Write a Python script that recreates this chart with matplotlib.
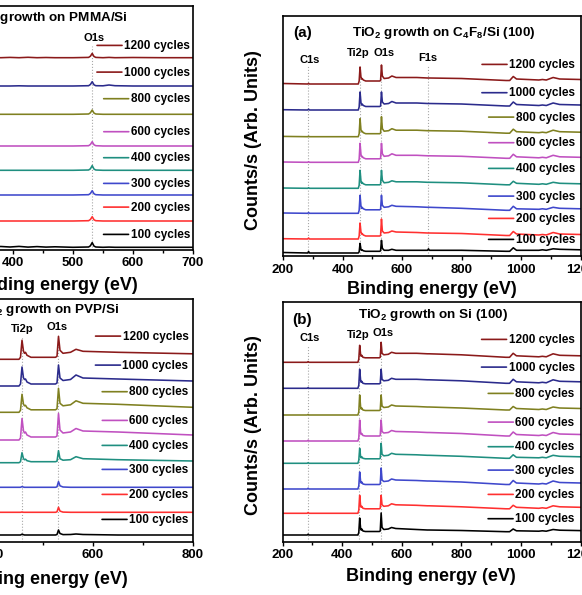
import matplotlib
matplotlib.use('Agg')
import matplotlib.pyplot as plt
from matplotlib.ticker import MultipleLocator

plt.rcParams['font.family'] = ['Liberation Sans', 'DejaVu Sans']
plt.rcParams['font.weight'] = 'bold'
plt.rcParams['axes.labelweight'] = 'bold'
plt.rcParams['mathtext.fontset'] = 'custom'
plt.rcParams['mathtext.rm'] = 'Liberation Sans:bold'
plt.rcParams['mathtext.it'] = 'Liberation Sans:bold'
plt.rcParams['mathtext.bf'] = 'Liberation Sans:bold'
plt.rcParams['mathtext.default'] = 'rm'

W, H = 582, 595

cycles = ['1200', '1000', '800', '600', '400', '300', '200', '100']
colors = ['#8b1a1a', '#2b2b8c', '#7f8020', '#c050c0', '#1f8f80', '#3f48cc', '#ff3030', '#000000']

# (a) TiO2 on C4F8/Si(100)
energy_a = [200, 283, 286, 289, 453, 456, 459, 462, 464, 466, 470, 478, 525, 528, 531, 534, 540, 555,
            566, 580, 650, 686, 689, 692, 800, 950, 962, 974, 985, 1060, 1072, 1085, 1108, 1130, 1200]
counts_a = [
    [0.5, 0, 0.6, 0, 0, 3, 17, 7, 5, 5.5, 4, 3, 3, 3.5, 19, 8, 5.5, 6, 8, 6.5, 6.5, 6, 6, 6, 5.5, 3.5, 3.5, 7.5, 5, 4, 4.5, 4, 6.5, 5, 4.5],
    [0.3, 0, 0.8, 0, 0, 3, 18, 7.5, 5, 6, 4.5, 3.5, 3.5, 4, 18, 8, 6, 6.5, 8.5, 7, 7, 6.5, 6.5, 6.5, 6, 4, 4, 8, 5.5, 4.5, 5, 4.5, 7, 5.5, 5],
    [0.3, 0, 0.5, 0, 0, 3, 18, 7, 5, 5.5, 4, 3, 3, 3.5, 20, 8, 5.5, 6, 8, 6.5, 6.5, 6, 6, 6, 5.5, 3.5, 3.5, 7.5, 5, 4, 4.5, 4, 6.5, 5, 4.5],
    [0.3, 0, 0.6, 0, 0, 3, 19, 8, 5.5, 6, 4.5, 3.5, 3.5, 4, 19, 8.5, 6, 6.5, 8.5, 7, 7, 6.5, 6.5, 6.5, 6, 4, 4, 8, 5.5, 4.5, 5, 4.5, 7, 5.5, 5],
    [0.3, 0, 0.6, 0, 0, 3, 18, 7.5, 5, 6, 4.5, 3.5, 3.5, 4, 18, 8, 5.5, 6, 7.5, 6.5, 6.5, 6, 6, 6, 5.5, 3.5, 3.5, 7, 5, 4, 4.5, 4, 6, 5, 4.5],
    [0.3, 0, 0.8, 0, 0, 3, 18, 7.5, 5, 6, 4.5, 3.5, 3.5, 4, 18, 8, 6, 6.5, 8, 7, 6.5, 6, 6, 6, 5, 3, 3, 7, 4.5, 4, 4.5, 4, 6, 5, 4.5],
    [0.3, 0, 1, 0, 0, 3, 16, 7, 5, 5.5, 4, 3, 3, 3.5, 20, 8, 6, 6.5, 8, 7, 6.5, 6, 6, 6, 5.5, 3.5, 3.5, 7.5, 5, 4, 4.5, 4, 6.5, 5, 4.5],
    [0.8, 0.3, 1.8, 0.3, 0.3, 1.5, 10, 4, 3, 3.5, 2.5, 2, 2, 2.5, 13, 5, 3, 3, 4, 3, 3, 3, 4.5, 3, 3, 2, 2, 5.5, 3, 3, 3.5, 3, 4.5, 4, 3.5],
]
offset_a = [172, 146, 119.3, 93.7, 67.7, 42.7, 17, 2.7]
peaks_a = ['C1s', 'Ti2p', 'O1s', 'F1s']
peak_energy_a = [285, 458, 531, 689]

# (b) TiO2 on Si(100)
energy_b = energy_a
counts_b = [
    [0, 0, 0.7, 0, 0, 3, 17, 8, 6, 7, 5, 4.5, 4.5, 5, 20, 9, 7.5, 8, 10, 9, 9, 8.5, 8.5, 8.5, 7.5, 5, 5, 9, 6.5, 5.5, 6, 5.5, 8.5, 7, 6.5],
    [0, 0, 0.7, 0, 0, 3, 19, 8.5, 6, 7, 5, 4.5, 4.5, 5, 19, 9, 7.5, 8, 10, 9, 9, 8.5, 8.5, 8.5, 7.5, 5, 5, 9, 6.5, 5.5, 6, 5.5, 8.5, 7, 6.5],
    [0, 0, 0.6, 0, 0, 3, 20, 8.5, 6, 7, 5, 4.5, 4.5, 5, 20, 9, 7.5, 8, 10, 9, 8.5, 8, 8, 8, 7, 5, 5, 8.5, 6.5, 5.5, 6, 5.5, 8, 7, 6.5],
    [0, 0, 0.7, 0, 0, 3, 21, 9, 6.5, 7.5, 5.5, 5, 5, 5.5, 21, 9.5, 8, 8.5, 10.5, 9.5, 9, 8.5, 8.5, 8.5, 7.5, 5, 5, 9, 6.5, 5.5, 6, 5.5, 8.5, 7, 6.5],
    [0, 0, 0.6, 0, 0, 3, 15, 7, 5.5, 6.5, 5, 4.5, 4.5, 5, 20, 9, 7.5, 8, 10, 9, 8.5, 8, 8, 8, 7, 5, 5, 8.5, 6, 5.5, 6, 5.5, 8, 7, 6.5],
    [0, 0, 0.8, 0, 0, 3, 17, 8, 6, 7, 5, 4.5, 4.5, 5, 21, 9, 7.5, 8, 10, 9, 8.5, 8, 8, 8, 7, 4.5, 4.5, 8.5, 6, 5, 5.5, 5, 8, 6.5, 6],
    [0, 0, 0.8, 0, 0, 3, 18, 8, 6, 7, 5, 4.5, 4.5, 5, 18, 8.5, 7, 7.5, 9.5, 8.5, 8, 7.5, 7.5, 7.5, 6.5, 4.5, 4.5, 8, 6, 5, 5.5, 5, 7.5, 6.5, 6],
    [0, 0, 0.8, 0, 0, 2.5, 17, 7, 5, 6, 4, 3.5, 3.5, 4, 22, 7.5, 5.5, 6, 7.5, 6.5, 5.5, 5, 5, 5, 4.5, 3.3, 3.3, 6, 4.2, 3.8, 4.2, 3.8, 5.5, 4.8, 4.4],
]
offset_b = [179.4, 153.4, 126.7, 100.7, 78.4, 52.7, 28.4, 6.7]
peaks_b = ['C1s', 'Ti2p', 'O1s']
peak_energy_b = [285, 458, 531]

# TiO2 on PMMA/Si
energy_pmma = [250, 380, 395, 410, 425, 440, 455, 470, 500, 526, 529, 532, 535, 538, 550, 560, 570, 600, 650, 700]
counts_pmma = [
    [0, 0, 0.3, 0, 0.4, 0, 0.2, 0, 0, 0.3, 1.5, 4.3, 1.2, 0.3, 0, 0.3, 0, 0.2, 0, 0],
    [0, 0, 0, 0.2, 0, 0, 0, 0, 0, 0.3, 1.5, 4.3, 1.2, 0.3, 0.2, 1.0, 0.3, 0, 0, 0],
    [0, 0, 0, 0, 0, 0, 0, 0, 0, 0.3, 1.5, 4.3, 1.2, 0.3, 0, 0, 0, 0, 0, 0],
    [0, 0, 0, 0, 0, 0, 0, 0, 0, 0.3, 1.5, 4.3, 1.2, 0.3, 0, 0, 0, 0, 0, 0],
    [0, 0, 0, 0, 0, 0, 0, 0, 0, 0.3, 1.5, 4.7, 1.2, 0.3, 0, 0, 0, 0, 0, 0],
    [0, 0, 0, 0, 0, 0, 0, 0, 0, 0.3, 1.5, 4.3, 1.2, 0.3, 0, 0, 0, 0, 0, 0],
    [0, 0, 0, 0, 0, 0, 0, 0, 0, 0.3, 1.5, 4.3, 1.2, 0.3, 0, 0, 0, 0, 0, 0],
    [0, 0.8, 0.3, 0.9, 0.2, 0.7, 0.2, 0.5, 0, 0.3, 1.5, 4.7, 1.2, 0.3, 0, 0.2, 0, 0, 0, 0],
]
offset_pmma = [191.8, 163.5, 135.2, 103.5, 79.2, 54.5, 28.5, 2.2]
peaks_pmma = ['O1s']
peak_energy_pmma = [532]

# TiO2 on PVP/Si
energy_pvp = [200, 380, 452, 455, 458, 461, 463, 465, 468, 476, 525, 528, 531, 534, 540, 555, 566, 580, 650, 800]
counts_pvp = [
    [0, 0, 0, 2, 19, 8, 6, 7, 4, 2, 2, 3, 23, 9, 6, 7, 10, 8, 7, 5.5],
    [0, 0, 0, 2, 19, 8, 6.5, 7, 4, 2, 2, 3, 21, 8, 5.5, 6.5, 11, 8, 7, 5],
    [0, 0, 0, 2, 18, 8, 6.5, 7, 4.5, 2.5, 2.5, 3.5, 24, 9, 6.5, 7.5, 11.5, 9, 8, 5],
    [0, 0, 0, 2, 21.5, 9, 7, 8, 5, 3, 3, 4, 26.5, 10, 7, 8, 11.5, 9, 8, 5],
    [0, 0, 0, 1, 10, 4, 3, 3.5, 2, 1, 1, 1.5, 12, 4, 2.5, 3, 6, 4, 3, 1.7],
    [0, 0, 0, 0, 0.7, 0.2, 0, 0, 0, 0, 0, 0.5, 5.7, 1.5, 0.3, 0, 0, 0, 0, 0],
    [0, 0, 0, 0, 0.3, 0, 0, 0, 0, 0, 0, 0.5, 5, 1.2, 0.2, 0, 0, 0, 0, 0],
    [0, 0, 0, 0, 0.8, 0.3, 0, 0, 0, 0, 0, 0.5, 5, 1.5, 0.4, 0.5, 1, 0.5, 0, 0],
]
offset_pvp = [182.2, 155.5, 129.2, 101.5, 78.8, 54.2, 29.2, 6.5]
peaks_pvp = ['Ti2p', 'O1s']
peak_energy_pvp = [458, 531]


def make_axes(fig, left, top, right, bottom):
    # pixel box -> figure fraction
    return fig.add_axes([left / W, (H - bottom) / H, (right - left) / W, (bottom - top) / H])


def draw_panel(ax, energy, counts, offsets, xlim, height, major, minor):
    for y, off, c in zip(counts, offsets, colors):
        ax.plot(energy, [v + off for v in y], color=c, lw=1.15)
    ax.set_xlim(*xlim)
    ax.set_ylim(0, height)
    ax.set_yticks([])
    ax.xaxis.set_major_locator(MultipleLocator(major))
    ax.xaxis.set_minor_locator(MultipleLocator(minor))
    ax.tick_params(axis='x', which='major', direction='out', length=3, width=1, labelsize=9.5, pad=2.5)
    ax.tick_params(axis='x', which='minor', direction='out', length=2, width=1)
    for s in ax.spines.values():
        s.set_linewidth(1.2)


def add_legend(ax, x, ys, line_colors):
    for lab, y, c in zip(cycles, ys, line_colors):
        t = ax.text(x, y, lab + ' cycles', ha='right', va='center', fontsize=8.5)
        ax.annotate('', xy=(0, 0.55), xycoords=t, xytext=(-19.5, 0), textcoords='offset points',
                    arrowprops=dict(arrowstyle='-', color=c, lw=1.2, shrinkA=0, shrinkB=1.5))


def mark_peaks(ax, names, energies, label_pos, top):
    ax.vlines(energies, 0, top, colors='#a8a8a8', linestyles=':', lw=0.8, zorder=0)
    for name, (lx, ly) in zip(names, label_pos):
        ax.text(lx, ly, name, ha='center', va='center', fontsize=8)


fig = plt.figure(figsize=(W / 100, H / 100), dpi=100)

ax_a = make_axes(fig, 283, 16, 580.5, 256)
draw_panel(ax_a, energy_a, counts_a, offset_a, (200, 1200), 240, 200, 100)
add_legend(ax_a, 1181.5, [191, 162.7, 138.3, 112.7, 87, 59.3, 37, 16], colors)
mark_peaks(ax_a, peaks_a, peak_energy_a, [(290, 196), (453, 203), (540, 203), (686, 198)], 190)
ax_a.text(265.5, 222.7, '(a)', ha='center', va='center', fontsize=11)
ax_a.text(432, 223, 'TiO$_2$ growth on C$_4$F$_8$/Si (100)', ha='left', va='center', fontsize=9.7)
ax_a.set_xlabel('Binding energy (eV)', fontsize=13, va='center')
ax_a.xaxis.set_label_coords(0.5, -34 / 240)
ax_a.set_ylabel('Counts/s (Arb. Units)', fontsize=13, va='center', ha='center')
ax_a.yaxis.set_label_coords(-0.1, 0.483)

ax_b = make_axes(fig, 282.5, 302, 580.5, 541.7)
draw_panel(ax_b, energy_b, counts_b, offset_b, (200, 1200), 239.7, 200, 100)
add_legend(ax_b, 1180, [201.7, 174, 147.7, 119, 94.4, 71, 46.7, 22.4], colors)
mark_peaks(ax_b, peaks_b, peak_energy_b, [(292, 203.4), (453, 206.7), (539, 208.4)], 196)
ax_b.text(264.5, 221.7, '(b)', ha='center', va='center', fontsize=11)
ax_b.text(453, 226.7, 'TiO$_2$ growth on Si (100)', ha='left', va='center', fontsize=9.7)
ax_b.set_xlabel('Binding energy (eV)', fontsize=13, va='center')
ax_b.xaxis.set_label_coords(0.497, -35 / 239.7)
ax_b.set_ylabel('Counts/s (Arb. Units)', fontsize=13, va='center', ha='center')
ax_b.yaxis.set_label_coords(-0.098, 0.487)

ax_pmma = make_axes(fig, -77, 6, 193, 249.5)
draw_panel(ax_pmma, energy_pmma, counts_pmma, offset_pmma, (250, 700), 243.5, 100, 50)
pmma_legend_colors = [colors[0], colors[0]] + colors[2:]
add_legend(ax_pmma, 695, [203.5, 176.8, 150.2, 117.2, 91.2, 65.5, 41.8, 14.5], pmma_legend_colors)
mark_peaks(ax_pmma, peaks_pmma, peak_energy_pmma, [(535.5, 211.5)], 204)
ax_pmma.text(591.7, 231.5, 'TiO$_2$ growth on PMMA/Si', ha='right', va='center', fontsize=9.7)
ax_pmma.set_xlabel('Binding energy (eV)', fontsize=13, va='center')
ax_pmma.xaxis.set_label_coords(0.481, -35.5 / 243.5)

ax_pvp = make_axes(fig, -107, 298.5, 193, 541.5)
draw_panel(ax_pvp, energy_pvp, counts_pvp, offset_pvp, (200, 800), 243, 200, 100)
add_legend(ax_pvp, 791, [204.8, 175.8, 149.2, 120.5, 95.5, 71.5, 46.5, 21.5], colors)
mark_peaks(ax_pvp, peaks_pvp, peak_energy_pvp, [(457.4, 212.2), (528.6, 214.2)], 205)
ax_pvp.text(654, 231.5, 'TiO$_2$ growth on PVP/Si', ha='right', va='center', fontsize=9.7)
ax_pvp.set_xlabel('Binding energy (eV)', fontsize=13, va='center')
ax_pvp.xaxis.set_label_coords(0.5, -38.5 / 243)

fig.savefig('out.png', dpi=100)
